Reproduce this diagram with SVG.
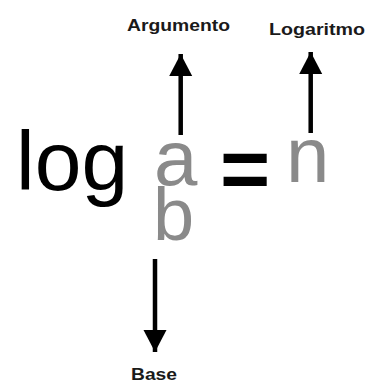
<svg xmlns="http://www.w3.org/2000/svg" width="376" height="385" viewBox="0 0 376 385">
<defs>
<style>
.lbl{font-family:"Liberation Sans",Arial,sans-serif;font-weight:bold;font-size:17px;fill:#1a1a1a}
.blk{font-family:"Liberation Sans",Arial,sans-serif;fill:#000}
.gry{font-family:"Liberation Sans",Arial,sans-serif;fill:#8a8a8a}
.arr{stroke:#000;stroke-width:4.5;fill:none;marker-end:url(#head)}
</style>
<marker id="head" markerUnits="userSpaceOnUse" markerWidth="24" markerHeight="24" refX="22" refY="11.5" orient="auto">
<path d="M0,0 L22,11.5 L0,23 Z" fill="#000"/>
</marker>
</defs>
<rect width="376" height="385" fill="#fff"/>
<g id="formula">
<text class="blk" x="16" y="190" font-size="84">log</text>
<text class="gry" x="153" y="240" font-size="74">b</text>
<text class="gry" x="154" y="185" font-size="78">a</text>
<text class="blk" x="220" y="198" font-size="86" font-weight="bold">=</text>
<text class="gry" x="286" y="182" font-size="78">n</text>
</g>
<g id="argumento">
<text class="lbl" x="127" y="31" textLength="103" lengthAdjust="spacingAndGlyphs">Argumento</text>
</g>
<g id="logaritmo">
<text class="lbl" x="269" y="35" textLength="96" lengthAdjust="spacingAndGlyphs">Logaritmo</text>
</g>
<g id="base">
<text class="lbl" x="131" y="380" textLength="46" lengthAdjust="spacingAndGlyphs">Base</text>
</g>
<g id="connectors">
<line class="arr" x1="180.7" y1="135" x2="180.7" y2="54"/>
<line class="arr" x1="310.7" y1="133" x2="310.7" y2="52"/>
<line class="arr" x1="155" y1="259" x2="155" y2="352"/>
</g>
</svg>
